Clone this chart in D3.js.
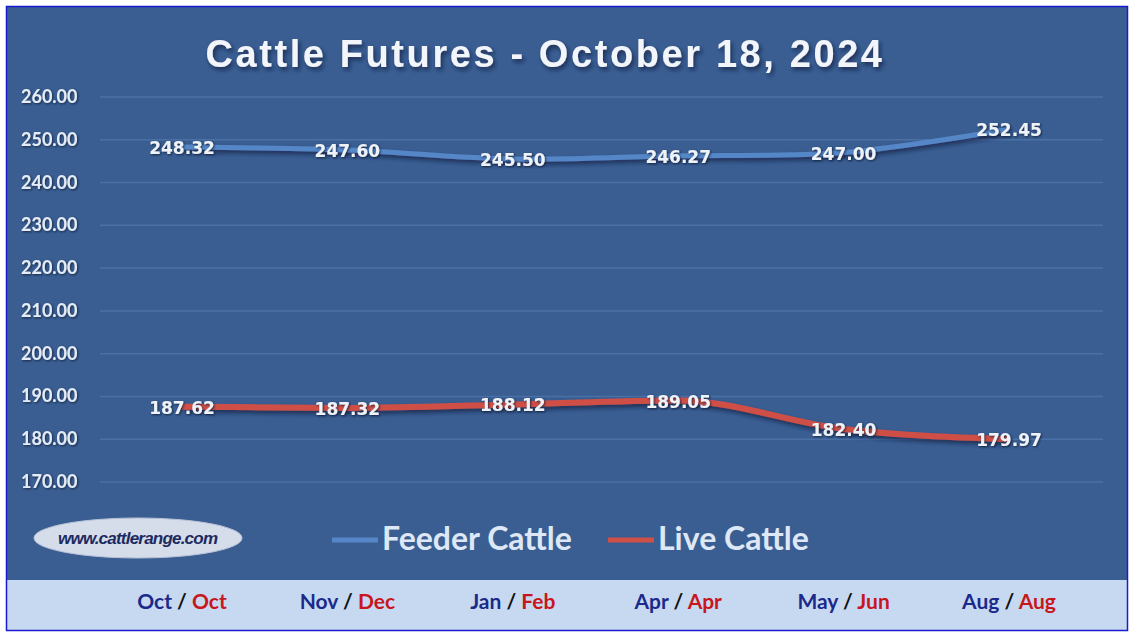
<!DOCTYPE html>
<html>
<head>
<meta charset="utf-8">
<script src="https://cdn.jsdelivr.net/npm/d3@7"></script>
<style>
  body { margin: 0; background: #fff; }
</style>
</head>
<body>
<div id="chart"></div>
<script>
// chart data
var months = ["Oct / Oct", "Nov / Dec", "Jan / Feb", "Apr / Apr", "May / Jun", "Aug / Aug"];
var feeder = [248.32, 247.60, 245.50, 246.27, 247.00, 252.45];
var live = [187.62, 187.32, 188.12, 189.05, 182.40, 179.97];
var yTicks = [170, 180, 190, 200, 210, 220, 230, 240, 250, 260];

var W = 1131, H = 632;
var svg = d3.select("#chart").append("svg")
    .attr("width", W)
    .attr("height", H)
    .style("font-family", "Lato, 'Open Sans', sans-serif");

var defs = svg.append("defs");
var sh = defs.append("filter").attr("id", "shadow")
    .attr("x", "-10%").attr("y", "-30%").attr("width", "130%").attr("height", "180%");
sh.append("feDropShadow").attr("dx", 2).attr("dy", 3).attr("stdDeviation", 2)
    .attr("flood-color", "#0d1f3a").attr("flood-opacity", 0.7);
var tsh = defs.append("filter").attr("id", "tshadow")
    .attr("x", "-10%").attr("y", "-30%").attr("width", "130%").attr("height", "180%");
tsh.append("feDropShadow").attr("dx", 1).attr("dy", 1).attr("stdDeviation", 0.8)
    .attr("flood-color", "#0a1a33").attr("flood-opacity", 0.8);

// background panels
svg.append("rect").attr("x", 6).attr("y", 6).attr("width", 1122).attr("height", 574)
    .attr("fill", "#3a5e92");
svg.append("rect").attr("x", 6).attr("y", 580).attr("width", 1122).attr("height", 51)
    .attr("fill", "#c7d9f1");
svg.append("rect").attr("x", 6.5).attr("y", 6.5).attr("width", 1121).attr("height", 624)
    .attr("fill", "none").attr("stroke", "#1a1ad0").attr("stroke-width", 1.5);

// scales
var x = d3.scalePoint().domain(months).range([182, 1009]);
var y = d3.scaleLinear().domain([170, 260]).range([482, 97]);

// gridlines
svg.append("g").selectAll("line").data(yTicks).join("line")
    .attr("x1", 100).attr("x2", 1103)
    .attr("y1", d => y(d)).attr("y2", d => y(d))
    .attr("stroke", "#4a70a6").attr("stroke-width", 1.5);

// y axis labels
svg.append("g").selectAll("text").data(yTicks).join("text")
    .attr("x", 21).attr("y", d => y(d) + 6)
    .attr("fill", "#e4ecf8")
    .attr("font-size", 18).attr("font-weight", "bold")
    .attr("font-family", "Lato, sans-serif")
    .attr("filter", "url(#tshadow)")
    .text(d => d3.format(".2f")(d));

// title
svg.append("text")
    .attr("x", 545).attr("y", 67)
    .attr("text-anchor", "middle")
    .attr("font-family", "'Liberation Sans', Arial, sans-serif")
    .attr("font-size", 38).attr("font-weight", "bold")
    .attr("letter-spacing", 2.6)
    .attr("fill", "#f2f5fa")
    .attr("filter", "url(#shadow)")
    .text("Cattle Futures - October 18, 2024");

// lines
var feederLine = d3.line()
    .x((d, i) => x(months[i]))
    .y(d => y(d))
    .curve(d3.curveCatmullRom.alpha(0.5));
var liveLine = d3.line()
    .x((d, i) => x(months[i]))
    .y(d => y(d))
    .curve(d3.curveMonotoneX);

svg.append("path").datum(feeder)
    .attr("fill", "none").attr("stroke", "#5587c8").attr("stroke-width", 5)
    .attr("filter", "url(#shadow)")
    .attr("d", feederLine);
svg.append("path").datum(live)
    .attr("fill", "none").attr("stroke", "#cf5046").attr("stroke-width", 6)
    .attr("filter", "url(#shadow)")
    .attr("d", liveLine);

// data labels
function labels(data) {
    svg.append("g").selectAll("text").data(data).join("text")
        .attr("x", (d, i) => x(months[i]))
        .attr("y", d => y(d) + 7)
        .attr("text-anchor", "middle")
        .attr("font-size", 17)
        .attr("font-family", "'DejaVu Sans', sans-serif")
        .attr("font-weight", "bold")
        .attr("fill", "#eef2f9")
        .attr("filter", "url(#tshadow)")
        .text(d => d3.format(".2f")(d));
}
labels(feeder);
labels(live);

// logo ellipse
svg.append("ellipse")
    .attr("cx", 138).attr("cy", 538).attr("rx", 104).attr("ry", 20)
    .attr("fill", "#d5dcea").attr("stroke", "#b8c3d8").attr("stroke-width", 1);
svg.append("text")
    .attr("x", 138).attr("y", 544)
    .attr("text-anchor", "middle")
    .attr("font-size", 17).attr("font-weight", "bold").attr("font-style", "italic")
    .attr("font-family", "'Liberation Sans Narrow', 'Liberation Sans', sans-serif")
    .attr("textLength", 160)
    .attr("fill", "#1c2a60")
    .text("www.cattlerange.com");

// legend
var legend = [
    { name: "Feeder Cattle", color: "#5587c8", x: 332 },
    { name: "Live Cattle", color: "#cf5046", x: 608 }
];
legend.forEach(function(l) {
    svg.append("line")
        .attr("x1", l.x).attr("x2", l.x + 46)
        .attr("y1", 540).attr("y2", 540)
        .attr("stroke", l.color).attr("stroke-width", 5);
    svg.append("text")
        .attr("x", l.x + 50).attr("y", 550)
        .attr("font-size", 32).attr("font-weight", "bold")
        .attr("fill", "#dde7f5")
        .text(l.name);
});

// category labels
var cat = svg.append("g").selectAll("text").data(months).join("text")
    .attr("x", d => x(d)).attr("y", 609)
    .attr("text-anchor", "middle")
    .attr("font-size", 21).attr("font-weight", "bold");
cat.each(function(d) {
    var parts = d.split(" / ");
    var t = d3.select(this);
    t.append("tspan").attr("fill", "#1b2a8a").text(parts[0]);
    t.append("tspan").attr("fill", "#111").text(" / ");
    t.append("tspan").attr("fill", "#c8161d").text(parts[1]);
});
</script>
</body>
</html>
